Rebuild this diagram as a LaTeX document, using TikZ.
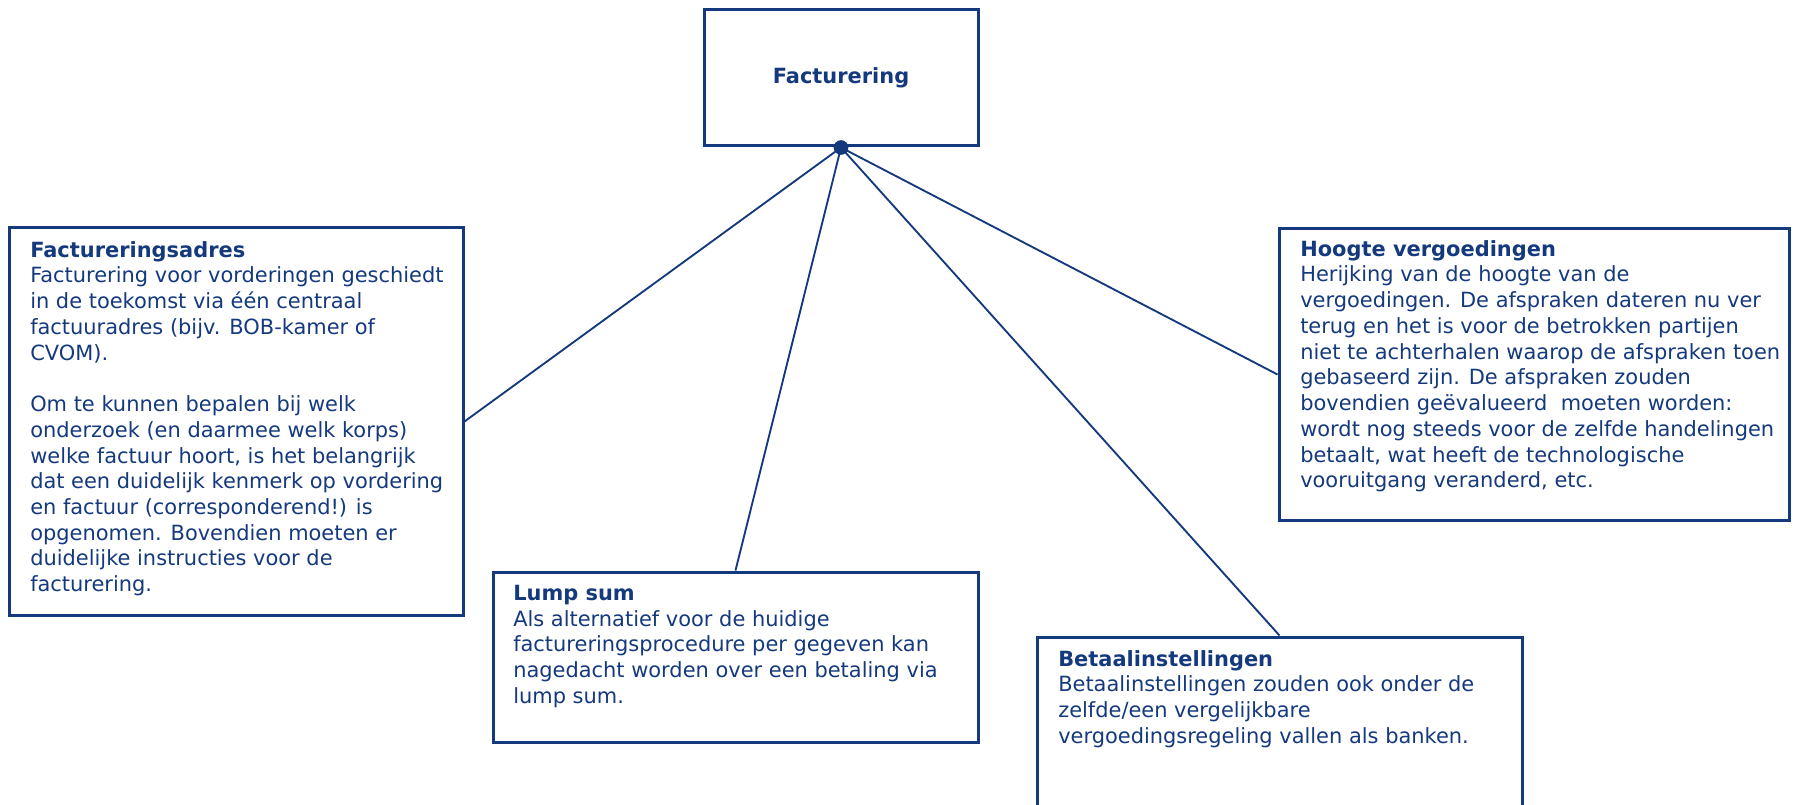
\documentclass[tikz,border=0pt]{standalone}
\usepackage{fontspec}
\setmainfont{DejaVu Sans}
\usepackage{tikz}
\usetikzlibrary{fit}
\definecolor{factblue}{RGB}{20,57,125}

\begin{document}
\begin{tikzpicture}[x=0.75pt,y=0.75pt,yscale=-1,xscale=1,
  card/.style={draw=factblue, line width=2.25pt, inner sep=0pt},
  notes/.style={anchor=north west, inner sep=0pt, align=left, text=factblue,
    font=\fontsize{15.7}{19.3}\selectfont},
  link/.style={draw=factblue, line width=1.4pt}]
\useasboundingbox (0,0) rectangle (1798,805);
\clip (0,0) rectangle (1798,805);

%Shape: Rectangle (main)
\node [card, fit={(704,9.5) (978,146)},
  label={[text=factblue, font=\fontsize{15.7}{19.3}\selectfont\bfseries]center:Facturering}] (fact) {};
\node [circle, fill=factblue, inner sep=0pt, minimum size=11pt] (hub) at (fact.south) {};

%Shape: Rectangle (left)
\node [card, fit={(9,228) (463,615)}] (adres) {};
%Shape: Rectangle (middle)
\node [card, fit={(493,572) (978,742)}] (lump) {};
%Shape: Rectangle (bottom right, runs off the page)
\node [card, fit={(1037,637) (1522,830)}] (betaal) {};
%Shape: Rectangle (right)
\node [card, fit={(1279,229) (1789,520)}] (hoogte) {};

%Straight Lines
\draw [link] (hub.center) -- (adres.east);
\draw [link] (hub.center) -- (lump.north);
\draw [link] (hub.center) -- (betaal.north);
\draw [link] (hub.center) -- (hoogte.west);

% Text Node
\node [notes] (adrestext) at (30,241) {\textbf{Factureringsadres}\\Facturering voor vorderingen geschiedt\\in de toekomst via één centraal\\factuuradres (bijv. BOB-kamer of\\CVOM).\\~\\Om te kunnen bepalen bij welk\\onderzoek (en daarmee welk korps)\\welke factuur hoort, is het belangrijk\\dat een duidelijk kenmerk op vordering\\en factuur (corresponderend!) is\\opgenomen. Bovendien moeten er\\duidelijke instructies voor de\\facturering.};
% Text Node
\node [notes] (lumptext) at (513,585) {\textbf{Lump sum}\\Als alternatief voor de huidige\\factureringsprocedure per gegeven kan\\nagedacht worden over een betaling via\\lump sum.};
% Text Node
\node [notes] (betaaltext) at (1058,650) {\textbf{Betaalinstellingen}\\Betaalinstellingen zouden ook onder de\\zelfde/een vergelijkbare\\vergoedingsregeling vallen als banken.};
% Text Node
\node [notes] (hoogtetext) at (1300,240) {\textbf{Hoogte vergoedingen}\\Herijking van de hoogte van de\\vergoedingen. De afspraken dateren nu ver\\terug en het is voor de betrokken partijen\\niet te achterhalen waarop de afspraken toen\\gebaseerd zijn. De afspraken zouden\\bovendien geëvalueerd\ \ moeten worden:\\wordt nog steeds voor de zelfde handelingen\\betaalt, wat heeft de technologische\\vooruitgang veranderd, etc.};

\end{tikzpicture}
\end{document}
